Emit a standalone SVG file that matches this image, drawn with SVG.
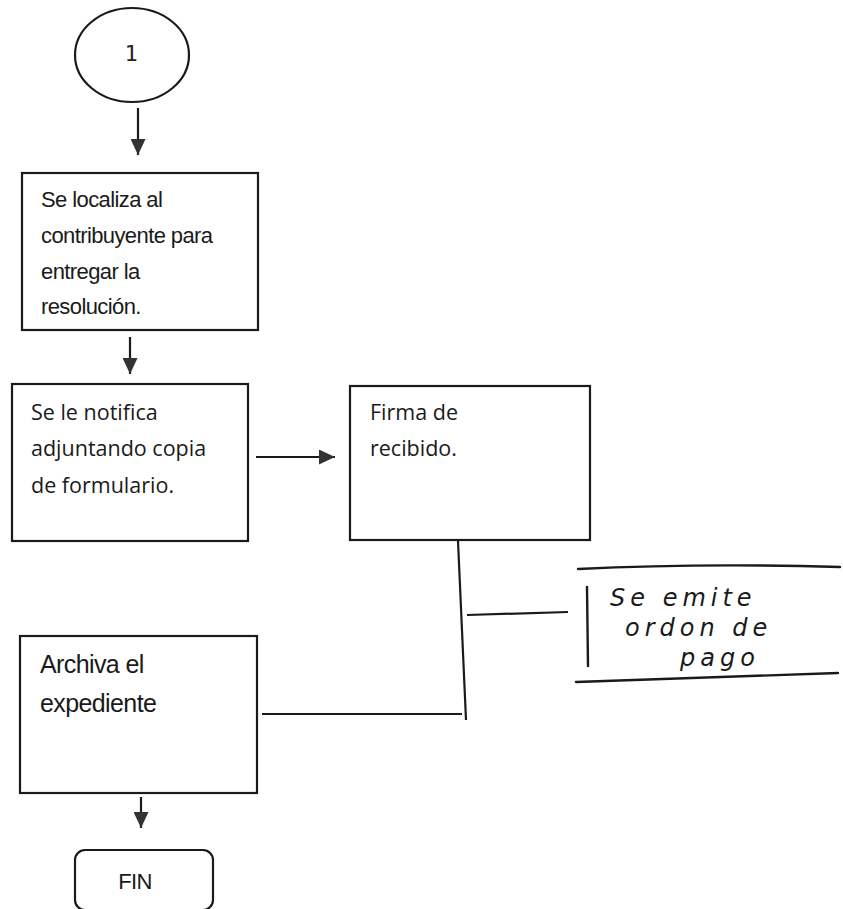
<svg xmlns="http://www.w3.org/2000/svg" width="843" height="909" viewBox="0 0 843 909">
<style>
.box{fill:#fff;stroke:#1a1a1a;stroke-width:2.2}
.ln{fill:none;stroke:#1a1a1a;stroke-width:2.2}
.hw{fill:none;stroke:#1a1a1a;stroke-width:2.4;stroke-linecap:round}
.ar{font-family:"Liberation Sans",Arial,sans-serif;font-size:22px;fill:#1a1a1a;letter-spacing:-0.6px}
.ca{font-family:"Open Sans","Noto Sans",sans-serif;font-size:21.5px;fill:#1a1a1a}
.hand{font-family:"DejaVu Sans",sans-serif;font-style:italic;font-size:24px;fill:#1a1a1a;letter-spacing:5px}
.num{font-family:"DejaVu Sans Mono","Liberation Mono",monospace;font-size:22px;fill:#222}
</style>
<defs>
<marker id="ah2" viewBox="0 0 10 10" refX="10" refY="5" markerWidth="16" markerHeight="15" orient="auto" markerUnits="userSpaceOnUse" preserveAspectRatio="none">
<path d="M0,0 L10,5 L0,10 z" fill="#333"/>
</marker>
</defs>
<rect width="843" height="909" fill="#fff"/>
<g id="connectors">
<line class="ln" x1="138" y1="108" x2="138" y2="155" marker-end="url(#ah2)"/>
<line class="ln" x1="130" y1="337" x2="130" y2="374" marker-end="url(#ah2)"/>
<line class="ln" x1="256" y1="457" x2="335" y2="457" marker-end="url(#ah2)"/>
<line class="ln" x1="458" y1="541" x2="466" y2="720"/>
<line class="ln" x1="467" y1="615" x2="568" y2="612"/>
<line class="ln" x1="262" y1="714" x2="462" y2="714"/>
<line class="ln" x1="141" y1="797" x2="141" y2="828" marker-end="url(#ah2)"/>
</g>
<g id="n1">
<ellipse class="box" cx="132" cy="55" rx="57" ry="47"/>
<text class="num" x="131" y="61" text-anchor="middle">1</text>
</g>
<g id="n2">
<rect class="box" x="22" y="173" width="236" height="157"/>
<text class="ar" x="41" y="207">Se localiza al</text>
<text class="ar" x="41" y="243">contribuyente para</text>
<text class="ar" x="41" y="279">entregar la</text>
<text class="ar" x="41" y="314">resolución.</text>
</g>
<g id="n3">
<rect class="box" x="12" y="384" width="236" height="157"/>
<text class="ca" x="31" y="420">Se le notifica</text>
<text class="ca" x="31" y="456">adjuntando copia</text>
<text class="ca" x="31" y="493">de formulario.</text>
</g>
<g id="n4">
<rect class="box" x="350" y="386" width="240" height="154"/>
<text class="ca" x="370" y="420">Firma de</text>
<text class="ca" x="370" y="456">recibido.</text>
</g>
<g id="n5">
<path class="hw" d="M578,569 Q700,563 840,567"/>
<path class="hw" d="M587,587 L588,666"/>
<path class="hw" d="M576,682 Q700,678 838,673"/>
<text class="hand" x="610" y="606">Se emite</text>
<text class="hand" x="625" y="636">ordon de</text>
<text class="hand" x="680" y="666">pago</text>
</g>
<g id="n6">
<rect class="box" x="20" y="636" width="237" height="157"/>
<text class="ar" x="40" y="673" style="font-size:25px">Archiva el</text>
<text class="ar" x="40" y="712" style="font-size:25px">expediente</text>
</g>
<g id="n7">
<rect class="box" x="75" y="850" width="138" height="60" rx="10"/>
<text class="ar" x="135" y="889" text-anchor="middle" style="font-size:22px">FIN</text>
</g>
</svg>
